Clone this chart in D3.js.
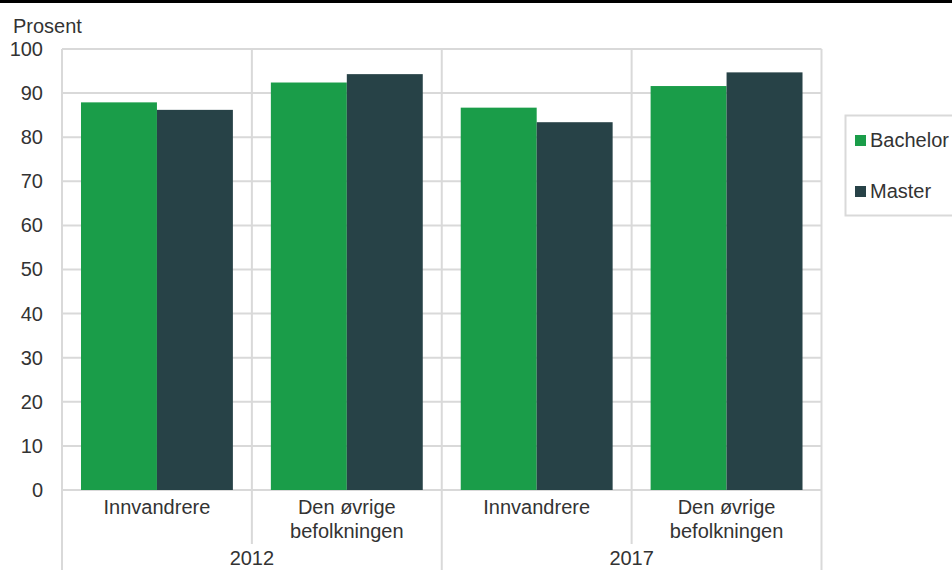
<!DOCTYPE html>
<html><head><meta charset="utf-8">
<script src="https://cdn.jsdelivr.net/npm/d3@7"></script>
<style>body{margin:0;background:#fff}svg{display:block}text{font-family:"Liberation Sans",Arial,sans-serif;fill:#333}</style>
</head><body><svg id="c" width="952" height="570"></svg>
<script>
const years = ["2012", "2017"];
const groups = ["Innvandrere", "Den øvrige befolkningen"];
const series = ["Bachelor", "Master"];
const bachelor = [87.9, 92.4, 86.7, 91.6];
const master = [86.2, 94.3, 83.4, 94.7];
const yTicks = [0, 10, 20, 30, 40, 50, 60, 70, 80, 90, 100];
const colors = ["#1a9d49", "#274247"];
const FS = "20px";

const svg = d3.select("#c");
svg.append("rect").attr("x",0).attr("y",0).attr("width",952).attr("height",3).attr("fill","#000");
const L = 62, R = 821.5, T = 49, B = 490;
const cats = [];
years.forEach(y => groups.forEach(g => cats.push(y + "|" + g)));
const x = d3.scaleBand().domain(cats).range([L, R]).paddingInner(0).paddingOuter(0);
const xs = d3.scaleBand().domain(series).range([0, x.bandwidth()]).paddingInner(0).paddingOuter(0.25);
const y = d3.scaleLinear().domain([0, 100]).range([B, T]);
const grid = "#d9d9d9";

// horizontal gridlines
svg.append("g").selectAll("line").data(yTicks).join("line")
  .attr("x1", L).attr("x2", R).attr("y1", d => y(d)).attr("y2", d => y(d))
  .attr("stroke", grid).attr("stroke-width", 2);

// vertical separators
const seps = [];
cats.forEach((c, i) => seps.push({x: x(c), outer: i % 2 === 0}));
seps.push({x: R, outer: true});
svg.append("g").selectAll("line").data(seps).join("line")
  .attr("x1", d => d.x).attr("x2", d => d.x).attr("y1", T)
  .attr("y2", d => d.outer ? 570 : 544)
  .attr("stroke", grid).attr("stroke-width", 2);

// bars
const vals = [bachelor, master];
const bars = [];
cats.forEach((c, i) => series.forEach((s, j) => bars.push({c, s, v: vals[j][i], j})));
svg.append("g").selectAll("rect").data(bars).join("rect")
  .attr("x", d => x(d.c) + xs(d.s)).attr("width", xs.bandwidth())
  .attr("y", d => y(d.v)).attr("height", d => y(0) - y(d.v))
  .attr("fill", d => colors[d.j]);

// y axis labels
const ya = d3.axisLeft(y).tickValues(yTicks).tickSize(0).tickPadding(0);
const yg = svg.append("g").attr("transform", `translate(43,0)`).call(ya);
yg.select(".domain").remove();
yg.selectAll("text").style("font-size", FS).style("fill", "#333").attr("font-family", "Liberation Sans, Arial, sans-serif");

svg.append("text").attr("x", 13).attr("y", 33).style("font-size", FS).text("Prosent");

// category labels
cats.forEach(c => {
  const g = c.split("|")[1];
  const cx = x(c) + x.bandwidth() / 2;
  const words = g === "Den øvrige befolkningen" ? ["Den øvrige", "befolkningen"] : [g];
  words.forEach((w, k) => svg.append("text").attr("x", cx).attr("y", 514 + k * 24)
    .attr("text-anchor", "middle").style("font-size", FS).text(w));
});
years.forEach(yr => {
  const cx = x(yr + "|" + groups[1]);
  svg.append("text").attr("x", cx).attr("y", 565).attr("text-anchor", "middle").style("font-size", FS).text(yr);
});

// legend
svg.append("rect").attr("x", 845.5).attr("y", 115.5).attr("width", 130).attr("height", 100)
  .attr("fill", "none").attr("stroke", grid).attr("stroke-width", 2);
series.forEach((s, i) => {
  const ly = 147 + i * 51;
  svg.append("rect").attr("x", 855).attr("y", ly - 12).attr("width", 11).attr("height", 11).attr("fill", colors[i]);
  svg.append("text").attr("x", 870).attr("y", ly).style("font-size", FS).text(s);
});
</script></body></html>
